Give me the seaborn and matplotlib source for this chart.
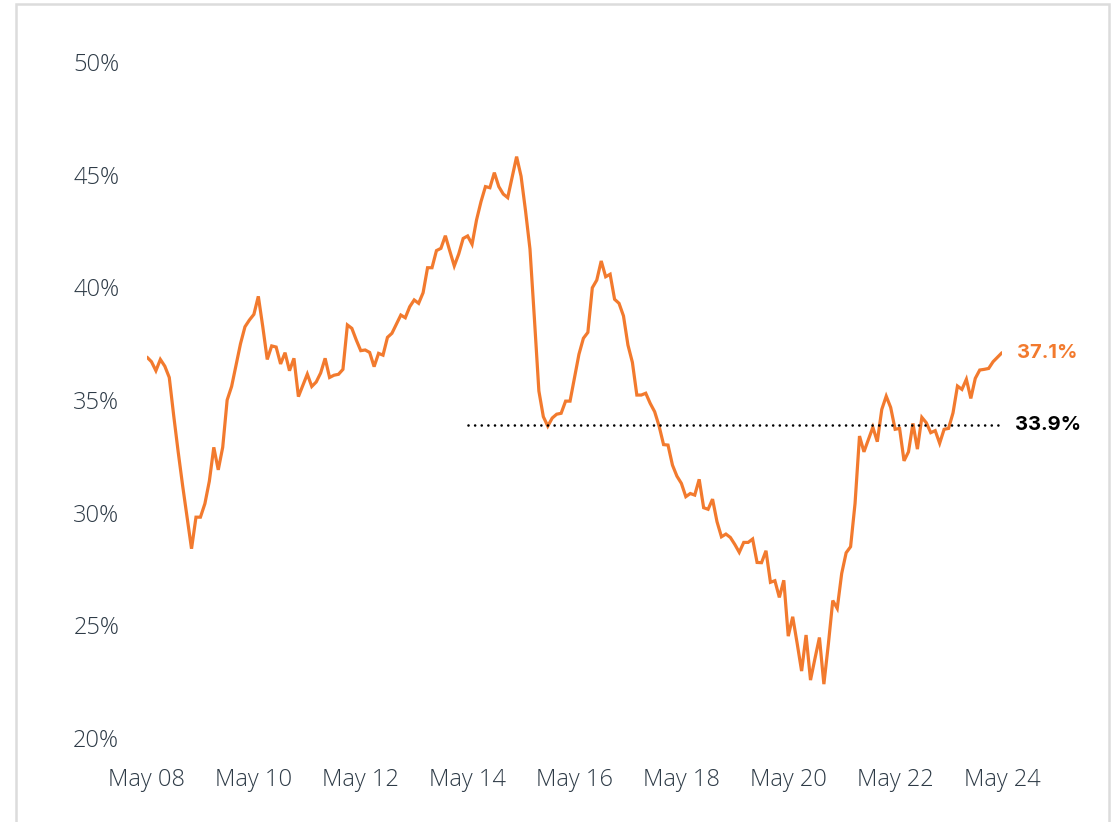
import numpy as np
import pandas as pd
import matplotlib
matplotlib.use("Agg")
import matplotlib.pyplot as plt
import matplotlib.dates as mdates
from matplotlib.patches import Rectangle
import seaborn as sns

# Two-hourly share readings, May 08 00:00 to May 24 00:00
start = "2024-05-08 00:00"
step = "2h"
share = [
    36.9, 36.7, 36.3, 36.8, 36.5, 36.0, 34.3, 32.7, 31.2, 29.8,
    28.4, 29.8, 29.8, 30.4, 31.4, 32.9, 31.9, 32.9, 35.0, 35.6,
    36.55, 37.5, 38.25, 38.55, 38.8, 39.6, 38.25, 36.8, 37.4, 37.35,
    36.6, 37.1, 36.3, 36.85, 35.15, 35.65, 36.15, 35.6, 35.8, 36.2,
    36.85, 36.0, 36.1, 36.14, 36.36, 38.33, 38.18, 37.66, 37.19, 37.22,
    37.11, 36.48, 37.07, 36.99, 37.78, 37.96, 38.36, 38.77, 38.65, 39.14,
    39.44, 39.29, 39.76, 40.87, 40.87, 41.63, 41.73, 42.29, 41.61, 40.95,
    41.48, 42.17, 42.28, 41.91, 42.99, 43.80, 44.47, 44.42, 45.09, 44.47,
    44.14, 43.98, 44.88, 45.8, 44.93, 43.4, 41.7, 38.6, 35.4, 34.26,
    33.84, 34.2, 34.37, 34.41, 34.95, 34.95, 36.0, 37.03, 37.74, 38.0,
    39.98, 40.32, 41.17, 40.47, 40.58, 39.47, 39.29, 38.73, 37.44, 36.67,
    35.22, 35.22, 35.30, 34.85, 34.48, 33.84, 33.02, 33.0, 32.11, 31.62,
    31.30, 30.71, 30.85, 30.78, 31.48, 30.22, 30.15, 30.60, 29.60, 28.93,
    29.05, 28.90, 28.59, 28.24, 28.68, 28.68, 28.83, 27.79, 27.78, 28.31,
    26.91, 26.98, 26.24, 27.0, 24.52, 25.38, 24.20, 22.97, 24.57, 22.57,
    23.53, 24.46, 22.39, 24.15, 26.1, 25.75, 27.3, 28.22, 28.49, 30.41,
    33.40, 32.70, 33.25, 33.79, 33.15, 34.58, 35.17, 34.67, 33.70, 33.74,
    32.30, 32.70, 33.96, 32.82, 34.23, 33.99, 33.55, 33.64, 33.08, 33.70,
    33.74, 34.43, 35.62, 35.47, 35.92, 35.07, 35.96, 36.33, 36.36, 36.4,
    36.7, 36.9, 37.1,
]

# Reference level and the span it is drawn over
ref_level = 33.9
ref_start = "2024-05-14 00:00"
ref_end = "2024-05-24 00:00"

x_start = "2024-05-08"
x_end = "2024-05-24"
y_ticks = [20, 25, 30, 35, 40, 45, 50]

orange = "#F27A2E"
tick_color = "#2E3B47"

sns.set_theme(style="white")
plt.rcParams["font.family"] = ["Open Sans", "DejaVu Sans"]

df = pd.DataFrame({
    "time": pd.date_range(start, periods=len(share), freq=step),
    "share": share,
})

fig = plt.figure(figsize=(11.12, 8.22), dpi=100)
W, H = 1112, 822
ax = fig.add_axes([147 / W, (H - 738) / H, 855 / W, 676 / H])

# Light frame around the card (open at the bottom)
fig.patches.append(Rectangle((16 / W, -0.05), (1109 - 16) / W, 1.05 - 4.5 / H,
                             transform=fig.transFigure, fill=False,
                             edgecolor="#DCDCDC", linewidth=1.8))

sns.lineplot(data=df, x="time", y="share", ax=ax, color=orange,
             linewidth=2.3, solid_joinstyle="miter")

ax.hlines(ref_level, pd.Timestamp(ref_start), pd.Timestamp("2024-05-23 23:00"),
          colors="black", linestyles=(0, (0.01, 2.5)), linewidth=1.9,
          capstyle="round")

ax.set_xlim(pd.Timestamp(x_start), pd.Timestamp(x_end))
ax.set_ylim(y_ticks[0], y_ticks[-1])
ax.set_yticks(y_ticks)
ax.set_yticklabels([f"{v}%" for v in y_ticks])
ax.xaxis.set_major_locator(mdates.DayLocator(interval=2))
ax.xaxis.set_major_formatter(mdates.DateFormatter("%b %d"))

ax.set_xlabel("")
ax.set_ylabel("")
for s in ax.spines.values():
    s.set_visible(False)
ax.grid(False)
ax.tick_params(axis="y", length=0, pad=20, labelsize=17, labelcolor=tick_color)
ax.tick_params(axis="x", length=0, pad=21.5, labelsize=17, labelcolor=tick_color)
for lab in ax.get_xticklabels() + ax.get_yticklabels():
    lab.set_fontweight("light")

# End-of-series and reference labels
last_t = df["time"].iloc[-1]
ax.annotate(f"{share[-1]:.1f}%", xy=(last_t, share[-1]), xytext=(11, 0),
            textcoords="offset points", ha="left", va="center",
            fontsize=14.5, fontweight="bold", color=orange,
            family=["Inter", "DejaVu Sans"], annotation_clip=False)
ax.annotate(f"{ref_level:.1f}%", xy=(pd.Timestamp(ref_end), ref_level),
            xytext=(9.5, 0), textcoords="offset points", ha="left", va="center",
            fontsize=14.5, fontweight="bold", color="black",
            family=["Inter", "DejaVu Sans"], annotation_clip=False)

fig.savefig("out.png", dpi=100, facecolor="white")
